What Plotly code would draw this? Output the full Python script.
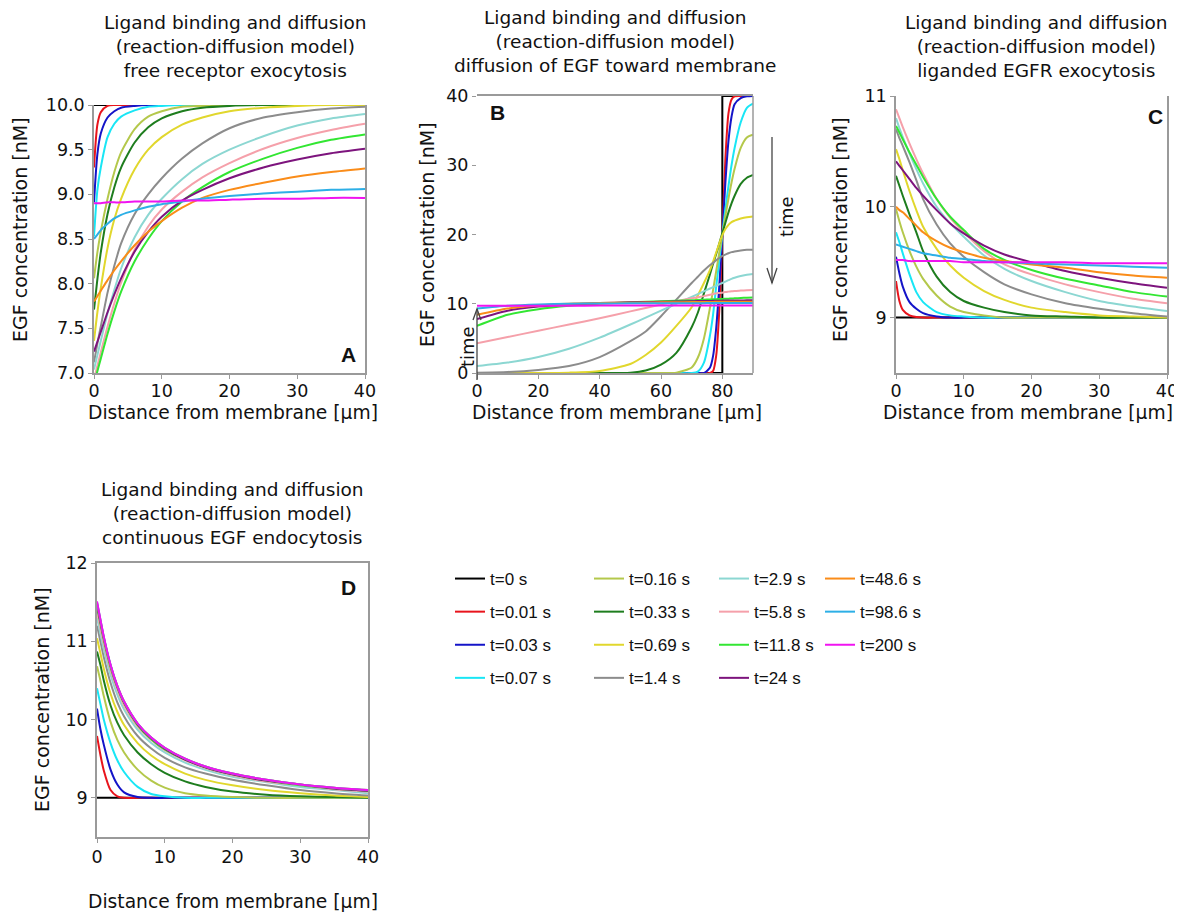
import plotly.graph_objects as go

W, H = 1182, 912
OFF = 8  # default page margin of the html body
FONT = "DejaVu Sans"
LEGFONT = "Liberation Sans Narrow, Arial Narrow, Liberation Sans, sans-serif"

LABELS = ["t=0 s", "t=0.01 s", "t=0.03 s", "t=0.07 s", "t=0.16 s", "t=0.33 s", "t=0.69 s",
          "t=1.4 s", "t=2.9 s", "t=5.8 s", "t=11.8 s", "t=24 s", "t=48.6 s", "t=98.6 s", "t=200 s"]
COLORS = ["#000000", "#E8141C", "#1414C8", "#19E6F5", "#B4C84B", "#1E7D1E", "#E1D72D",
          "#8C8C8C", "#8CD7D2", "#F5A0AA", "#32E632", "#7D147D", "#FA8C19", "#2DAFE6", "#F014F0"]

# ---------------- Panel A: free receptor exocytosis ----------------
XA = [0, 0.5, 1, 2, 3, 4, 6, 8, 10, 13, 16, 20, 25, 30, 35, 40]
A_t0 = [10.0, 10.0, 10.0, 10.0, 10.0, 10.0, 10.0, 10.0, 10.0, 10.0, 10.0, 10.0, 10.0, 10.0, 10.0, 10.0]
A_t0_01 = [9.30, 9.78, 9.92, 9.99, 10.0, 10.0, 10.0, 10.0, 10.0, 10.0, 10.0, 10.0, 10.0, 10.0, 10.0, 10.0]
A_t0_03 = [8.91, 9.45, 9.68, 9.86, 9.93, 9.97, 9.99, 10.0, 10.0, 10.0, 10.0, 10.0, 10.0, 10.0, 10.0, 10.0]
A_t0_07 = [8.53, 9.05, 9.30, 9.64, 9.79, 9.87, 9.94, 9.98, 9.99, 10.0, 10.0, 10.0, 10.0, 10.0, 10.0, 10.0]
A_t0_16 = [8.06, 8.35, 8.58, 8.95, 9.25, 9.47, 9.73, 9.87, 9.93, 9.98, 9.99, 10.0, 10.0, 10.0, 10.0, 10.0]
A_t0_33 = [7.71, 8.05, 8.35, 8.78, 9.08, 9.30, 9.58, 9.75, 9.85, 9.93, 9.97, 9.99, 10.0, 10.0, 10.0, 10.0]
A_t0_69 = [7.36, 7.68, 7.95, 8.40, 8.72, 8.95, 9.28, 9.50, 9.64, 9.78, 9.86, 9.93, 9.97, 9.99, 10.0, 10.0]
A_t1_4 = [7.12, 7.33, 7.52, 7.90, 8.20, 8.45, 8.78, 9.00, 9.18, 9.40, 9.57, 9.74, 9.86, 9.92, 9.96, 9.98]
A_t2_9 = [7.04, 7.20, 7.36, 7.67, 7.93, 8.17, 8.52, 8.77, 8.95, 9.17, 9.34, 9.50, 9.65, 9.77, 9.85, 9.90]
A_t5_8 = [6.93, 7.08, 7.23, 7.52, 7.78, 8.01, 8.38, 8.64, 8.83, 9.03, 9.19, 9.35, 9.51, 9.63, 9.72, 9.79]
A_t11_8 = [6.88, 7.02, 7.16, 7.44, 7.69, 7.91, 8.25, 8.50, 8.70, 8.92, 9.08, 9.25, 9.40, 9.52, 9.61, 9.67]
A_t24 = [7.24, 7.35, 7.46, 7.68, 7.88, 8.06, 8.36, 8.58, 8.75, 8.93, 9.05, 9.18, 9.30, 9.39, 9.46, 9.51]
A_t48_6 = [7.80, 7.86, 7.92, 8.04, 8.15, 8.25, 8.43, 8.58, 8.70, 8.85, 8.96, 9.05, 9.13, 9.20, 9.25, 9.29]
A_t98_6 = [8.50, 8.55, 8.60, 8.67, 8.73, 8.77, 8.82, 8.86, 8.89, 8.92, 8.95, 8.98, 9.01, 9.03, 9.05, 9.06]
A_t200 = [8.90, 8.90, 8.90, 8.91, 8.91, 8.91, 8.92, 8.92, 8.92, 8.93, 8.93, 8.94, 8.95, 8.95, 8.96, 8.96]

# ---------------- Panel B: diffusion of EGF toward membrane ----------------
XB0 = [0, 80, 80, 90]
XB = [0, 10, 20, 30, 40, 50, 55, 60, 65, 70, 72, 74, 76, 77, 78, 79, 80, 81, 82, 83, 84, 86, 88, 90]
B_t0 = [0, 0, 40, 40]
B_t0_01 = [0, 0, 0, 0, 0, 0, 0, 0, 0, 0, 0, 0, 0, 0.3, 2.5, 9.0, 20.0, 31.0, 37.5, 39.5, 39.95, 40, 40, 40]
B_t0_03 = [0, 0, 0, 0, 0, 0, 0, 0, 0, 0, 0, 0, 0.8, 2.5, 6.5, 12.5, 20.0, 27.5, 33.5, 37.0, 38.8, 39.7, 39.95, 40]
B_t0_07 = [0, 0, 0, 0, 0, 0, 0, 0, 0, 0, 0.2, 1.5, 5.5, 8.5, 12.5, 16.2, 20.0, 23.7, 27.0, 30.0, 32.5, 36.2, 38.3, 38.9]
B_t0_16 = [0, 0, 0, 0, 0, 0, 0, 0, 0.05, 0.8, 2.2, 5.0, 9.5, 12.0, 14.7, 17.4, 20.0, 22.7, 25.2, 27.5, 29.5, 32.5, 34.0, 34.4]
B_t0_33 = [0, 0, 0, 0, 0, 0.05, 0.35, 1.2, 2.9, 6.6, 8.7, 11.5, 14.3, 15.8, 17.2, 18.7, 20.2, 21.7, 23.2, 24.5, 25.6, 27.3, 28.2, 28.6]
B_t0_69 = [0, 0, 0, 0.05, 0.3, 1.3, 2.6, 4.4, 6.8, 9.5, 11.2, 13.0, 14.9, 16.1, 17.4, 18.7, 19.9, 20.8, 21.4, 21.8, 22.0, 22.3, 22.5, 22.6]
B_t1_4 = [0.05, 0.15, 0.45, 1.0, 2.3, 4.6, 6.0, 8.2, 10.6, 13.0, 13.9, 14.8, 15.6, 15.9, 16.3, 16.6, 16.9, 17.1, 17.3, 17.45, 17.55, 17.7, 17.8, 17.8]
B_t2_9 = [1.0, 1.5, 2.3, 3.5, 5.1, 7.0, 8.0, 9.0, 10.0, 11.0, 11.4, 11.8, 12.2, 12.4, 12.6, 12.8, 13.0, 13.2, 13.4, 13.6, 13.75, 14.0, 14.2, 14.3]
B_t5_8 = [4.3, 5.2, 6.1, 7.0, 7.9, 8.9, 9.4, 9.9, 10.35, 10.8, 10.95, 11.1, 11.3, 11.4, 11.5, 11.55, 11.6, 11.7, 11.75, 11.8, 11.85, 11.9, 11.95, 12.0]
B_t11_8 = [6.8, 8.4, 9.2, 9.7, 10.0, 10.2, 10.28, 10.35, 10.42, 10.5, 10.54, 10.58, 10.62, 10.64, 10.66, 10.68, 10.7, 10.72, 10.74, 10.76, 10.78, 10.83, 10.87, 10.9]
B_t24 = [7.8, 9.0, 9.6, 9.9, 10.1, 10.2, 10.24, 10.28, 10.32, 10.36, 10.38, 10.4, 10.41, 10.42, 10.43, 10.44, 10.45, 10.46, 10.46, 10.47, 10.47, 10.48, 10.49, 10.5]
B_t48_6 = [8.4, 9.3, 9.75, 10.0, 10.1, 10.15, 10.17, 10.2, 10.22, 10.24, 10.25, 10.26, 10.27, 10.27, 10.28, 10.28, 10.29, 10.29, 10.3, 10.3, 10.3, 10.3, 10.3, 10.3]
B_t98_6 = [9.3, 9.7, 9.9, 10.0, 10.04, 10.06, 10.07, 10.08, 10.08, 10.09, 10.09, 10.09, 10.1, 10.1, 10.1, 10.1, 10.1, 10.1, 10.1, 10.1, 10.1, 10.1, 10.1, 10.1]
B_t200 = [9.7, 9.71, 9.72, 9.72, 9.73, 9.73, 9.73, 9.74, 9.74, 9.74, 9.74, 9.74, 9.75, 9.75, 9.75, 9.75, 9.75, 9.75, 9.75, 9.75, 9.75, 9.75, 9.75, 9.75]

# ---------------- Panel C: liganded EGFR exocytosis ----------------
XC = [0, 0.5, 1, 2, 3, 4, 6, 8, 10, 13, 16, 20, 25, 30, 35, 40]
C_t0 = [9.0, 9.0, 9.0, 9.0, 9.0, 9.0, 9.0, 9.0, 9.0, 9.0, 9.0, 9.0, 9.0, 9.0, 9.0, 9.0]
C_t0_01 = [9.33, 9.15, 9.07, 9.02, 9.005, 9.0, 9.0, 9.0, 9.0, 9.0, 9.0, 9.0, 9.0, 9.0, 9.0, 9.0]
C_t0_03 = [9.55, 9.40, 9.28, 9.14, 9.08, 9.04, 9.01, 9.0, 9.0, 9.0, 9.0, 9.0, 9.0, 9.0, 9.0, 9.0]
C_t0_07 = [9.77, 9.68, 9.58, 9.39, 9.23, 9.14, 9.05, 9.02, 9.01, 9.0, 9.0, 9.0, 9.0, 9.0, 9.0, 9.0]
C_t0_16 = [9.98, 9.87, 9.77, 9.60, 9.46, 9.35, 9.20, 9.10, 9.05, 9.02, 9.0, 9.0, 9.0, 9.0, 9.0, 9.0]
C_t0_33 = [10.28, 10.19, 10.10, 9.93, 9.77, 9.60, 9.37, 9.23, 9.15, 9.09, 9.05, 9.02, 9.01, 9.0, 9.0, 9.0]
C_t0_69 = [10.52, 10.43, 10.33, 10.14, 9.97, 9.82, 9.62, 9.47, 9.36, 9.24, 9.16, 9.09, 9.05, 9.02, 9.01, 9.0]
C_t1_4 = [10.70, 10.62, 10.55, 10.40, 10.24, 10.07, 9.84, 9.67, 9.55, 9.41, 9.30, 9.21, 9.13, 9.08, 9.04, 9.01]
C_t2_9 = [10.80, 10.71, 10.63, 10.48, 10.34, 10.21, 10.00, 9.85, 9.73, 9.56, 9.44, 9.33, 9.23, 9.15, 9.10, 9.06]
C_t5_8 = [10.88, 10.80, 10.72, 10.57, 10.43, 10.30, 10.07, 9.90, 9.77, 9.60, 9.48, 9.39, 9.30, 9.23, 9.17, 9.13]
C_t11_8 = [10.73, 10.67, 10.61, 10.49, 10.38, 10.27, 10.07, 9.91, 9.79, 9.62, 9.52, 9.43, 9.35, 9.29, 9.23, 9.19]
C_t24 = [10.41, 10.37, 10.33, 10.25, 10.17, 10.10, 9.97, 9.85, 9.76, 9.65, 9.57, 9.50, 9.42, 9.36, 9.31, 9.27]
C_t48_6 = [10.0, 9.97, 9.95, 9.89, 9.83, 9.77, 9.69, 9.63, 9.59, 9.54, 9.51, 9.48, 9.45, 9.41, 9.38, 9.36]
C_t98_6 = [9.66, 9.65, 9.64, 9.62, 9.60, 9.58, 9.56, 9.54, 9.53, 9.51, 9.50, 9.49, 9.48, 9.47, 9.46, 9.45]
C_t200 = [9.52, 9.52, 9.52, 9.51, 9.51, 9.51, 9.51, 9.51, 9.50, 9.50, 9.50, 9.50, 9.50, 9.49, 9.49, 9.49]

# ---------------- Panel D: continuous EGF endocytosis ----------------
XD = [0, 0.5, 1, 2, 3, 4, 6, 8, 10, 13, 16, 20, 25, 30, 35, 40]
D_t0 = [9.0, 9.0, 9.0, 9.0, 9.0, 9.0, 9.0, 9.0, 9.0, 9.0, 9.0, 9.0, 9.0, 9.0, 9.0, 9.0]
D_t0_01 = [9.79, 9.55, 9.35, 9.10, 9.02, 9.0, 9.0, 9.0, 9.0, 9.0, 9.0, 9.0, 9.0, 9.0, 9.0, 9.0]
D_t0_03 = [10.14, 9.88, 9.68, 9.36, 9.17, 9.07, 9.01, 9.0, 9.0, 9.0, 9.0, 9.0, 9.0, 9.0, 9.0, 9.0]
D_t0_07 = [10.40, 10.20, 10.00, 9.70, 9.48, 9.33, 9.14, 9.05, 9.02, 9.0, 9.0, 9.0, 9.0, 9.0, 9.0, 9.0]
D_t0_16 = [10.68, 10.50, 10.30, 9.97, 9.74, 9.58, 9.36, 9.22, 9.13, 9.06, 9.03, 9.01, 9.0, 9.0, 9.0, 9.0]
D_t0_33 = [10.87, 10.70, 10.50, 10.18, 9.96, 9.80, 9.58, 9.43, 9.32, 9.21, 9.14, 9.08, 9.04, 9.02, 9.01, 9.0]
D_t0_69 = [11.04, 10.85, 10.65, 10.33, 10.10, 9.93, 9.70, 9.54, 9.43, 9.31, 9.23, 9.16, 9.10, 9.06, 9.03, 9.01]
D_t1_4 = [11.20, 11.00, 10.80, 10.47, 10.22, 10.04, 9.79, 9.63, 9.51, 9.39, 9.31, 9.23, 9.16, 9.10, 9.06, 9.03]
D_t2_9 = [11.30, 11.10, 10.90, 10.57, 10.32, 10.13, 9.87, 9.70, 9.58, 9.45, 9.36, 9.27, 9.20, 9.14, 9.10, 9.06]
D_t5_8 = [11.38, 11.17, 10.97, 10.63, 10.38, 10.18, 9.91, 9.74, 9.61, 9.48, 9.38, 9.29, 9.21, 9.16, 9.11, 9.08]
D_t11_8 = [11.44, 11.23, 11.02, 10.67, 10.41, 10.21, 9.93, 9.75, 9.62, 9.49, 9.39, 9.30, 9.22, 9.16, 9.12, 9.09]
D_t24 = [11.47, 11.25, 11.04, 10.69, 10.42, 10.22, 9.94, 9.76, 9.63, 9.49, 9.39, 9.30, 9.22, 9.17, 9.12, 9.09]
D_t48_6 = [11.49, 11.27, 11.05, 10.69, 10.43, 10.23, 9.95, 9.77, 9.64, 9.50, 9.40, 9.31, 9.23, 9.17, 9.13, 9.10]
D_t98_6 = [11.50, 11.28, 11.06, 10.70, 10.43, 10.23, 9.95, 9.77, 9.64, 9.50, 9.40, 9.31, 9.23, 9.17, 9.13, 9.10]
D_t200 = [11.51, 11.28, 11.06, 10.70, 10.43, 10.23, 9.95, 9.77, 9.64, 9.50, 9.40, 9.31, 9.23, 9.17, 9.13, 9.10]

A_SERIES = [A_t0, A_t0_01, A_t0_03, A_t0_07, A_t0_16, A_t0_33, A_t0_69, A_t1_4, A_t2_9, A_t5_8,
            A_t11_8, A_t24, A_t48_6, A_t98_6, A_t200]
B_SERIES = [B_t0, B_t0_01, B_t0_03, B_t0_07, B_t0_16, B_t0_33, B_t0_69, B_t1_4, B_t2_9, B_t5_8,
            B_t11_8, B_t24, B_t48_6, B_t98_6, B_t200]
C_SERIES = [C_t0, C_t0_01, C_t0_03, C_t0_07, C_t0_16, C_t0_33, C_t0_69, C_t1_4, C_t2_9, C_t5_8,
            C_t11_8, C_t24, C_t48_6, C_t98_6, C_t200]
D_SERIES = [D_t0, D_t0_01, D_t0_03, D_t0_07, D_t0_16, D_t0_33, D_t0_69, D_t1_4, D_t2_9, D_t5_8,
            D_t11_8, D_t24, D_t48_6, D_t98_6, D_t200]

LEGEND_NAMES = ["legend", "legend2", "legend3", "legend4"]


def fx(p):
    return (p - OFF) / W


def fy(p):
    return 1 - (p - OFF) / H


fig = go.Figure()

panels = [
    ("x", "y", XA, A_SERIES),
    ("x2", "y2", XB, B_SERIES),
    ("x3", "y3", XC, C_SERIES),
    ("x4", "y4", XD, D_SERIES),
]

for pi, (xa, ya, xs, series) in enumerate(panels):
    for i, ys in enumerate(series):
        is_step = (pi == 1 and i == 0)
        fig.add_trace(go.Scatter(
            x=XB0 if is_step else xs,
            y=ys,
            mode="lines",
            line=dict(color=COLORS[i], width=2,
                      shape="linear" if is_step else "spline", smoothing=0.7),
            name=LABELS[i],
            legendgroup=LABELS[i],
            showlegend=(pi == 0),
            legend=LEGEND_NAMES[i // 4],
            xaxis=xa, yaxis=ya,
        ))

AXC = "#9A9A9A"


def axis(domain, rng, tickvals, anchor, showline=True, mirror=False, tickformat=None,
         ticklen=4, standoff=0):
    d = dict(domain=domain, range=rng, tickvals=tickvals, anchor=anchor, automargin=False,
             showline=showline, linecolor=AXC, linewidth=1.5, mirror=mirror,
             ticks="outside", ticklen=ticklen, tickcolor=AXC, tickwidth=1.2,
             ticklabelstandoff=standoff,
             showgrid=False, zeroline=False, fixedrange=True,
             tickfont=dict(family=FONT, size=17.5, color="#111111"))
    if tickformat:
        d["tickformat"] = tickformat
    return d


layout = dict(
    width=W, height=H,
    margin=dict(l=0, r=0, t=0, b=0, pad=0, autoexpand=False),
    paper_bgcolor="white", plot_bgcolor="white",
    font=dict(family=FONT, size=18, color="#111111"),
    showlegend=True,
    xaxis=axis([fx(94), fx(365)], [0, 40], [0, 10, 20, 30, 40], "y", standoff=-3),
    yaxis=axis([fy(373), fy(105)], [7, 10], [7, 7.5, 8, 8.5, 9, 9.5, 10], "x",
               mirror=True, tickformat=".1f"),
    xaxis2=axis([fx(477), fx(753)], [0, 90], [0, 20, 40, 60, 80], "y2", mirror=True, standoff=-3),
    yaxis2=axis([fy(373), fy(96)], [0, 40], [0, 10, 20, 30, 40], "x2", showline=False),
    xaxis3=axis([fx(896), fx(1167)], [0, 40], [0, 10, 20, 30, 40], "y3", standoff=-3),
    yaxis3=axis([fy(373), fy(96)], [8.5, 11], [9, 10, 11], "x3", mirror=True),
    xaxis4=axis([fx(97), fx(368)], [0, 40], [0, 10, 20, 30, 40], "y4", mirror=True, standoff=-1),
    yaxis4=axis([fy(837), fy(563)], [8.5, 12], [9, 10, 11, 12], "x4", mirror=True),
)

leg_x = [450, 589, 714, 820]
for k, name in enumerate(LEGEND_NAMES):
    layout[name] = dict(x=fx(leg_x[k]), y=fy(561), xanchor="left", yanchor="top",
                        orientation="v", traceorder="grouped", tracegroupgap=8,
                        bgcolor="rgba(0,0,0,0)", borderwidth=0, itemwidth=30,
                        font=dict(family=LEGFONT, size=17, color="#111111"))

fig.update_layout(**layout)

# ---- text annotations ----
ann = []
titles = [
    ("Ligand binding and diffusion<br>(reaction-diffusion model)<br>free receptor exocytosis", 235, 47),
    ("Ligand binding and diffusion<br>(reaction-diffusion model)<br>diffusion of EGF toward membrane", 615, 42),
    ("Ligand binding and diffusion<br>(reaction-diffusion model)<br>liganded EGFR exocytosis", 1036, 47),
    ("Ligand binding and diffusion<br>(reaction-diffusion model)<br>continuous EGF endocytosis", 232, 513),
]
for txt, cx, cy in titles:
    ann.append(dict(text=txt, x=fx(cx), y=fy(cy), xref="paper", yref="paper",
                    xanchor="center", yanchor="middle", showarrow=False,
                    font=dict(family=FONT, size=18.5, color="#111111")))

xtitle = "Distance from membrane [μm]"
for cx, cy in [(233, 413), (617, 413), (1028, 413), (233, 901)]:
    ann.append(dict(text=xtitle, x=fx(cx), y=fy(cy), xref="paper", yref="paper",
                    xanchor="center", yanchor="middle", showarrow=False,
                    font=dict(family=FONT, size=18.7, color="#111111")))

ytitle = "EGF concentration [nM]"
for cx, cy in [(20, 230), (427, 235), (840, 230), (42, 700)]:
    ann.append(dict(text=ytitle, x=fx(cx), y=fy(cy), xref="paper", yref="paper",
                    xanchor="center", yanchor="middle", showarrow=False, textangle=-90,
                    font=dict(family=FONT, size=19, color="#111111")))

for letter, cx, cy in [("A", 348, 355), ("B", 497, 113), ("C", 1155, 117), ("D", 348, 587)]:
    ann.append(dict(text="<b>" + letter + "</b>", x=fx(cx), y=fy(cy), xref="paper", yref="paper",
                    xanchor="center", yanchor="middle", showarrow=False,
                    font=dict(family="Liberation Sans", size=21, color="#111111")))

for cx, cy in [(467, 347), (787, 217)]:
    ann.append(dict(text="time", x=fx(cx), y=fy(cy), xref="paper", yref="paper",
                    xanchor="center", yanchor="middle", showarrow=False, textangle=-90,
                    font=dict(family=FONT, size=18, color="#111111")))

fig.update_layout(annotations=ann)

# ---- frame line and time arrows in panel B ----
ARC = "#444444"
shapes = [
    dict(type="line", xref="x2 domain", yref="y2 domain", x0=1, x1=1, y0=0, y1=1,
         line=dict(color=AXC, width=1.5)),
    dict(type="line", xref="paper", yref="paper", x0=fx(477), x1=fx(477), y0=fy(380), y1=fy(309),
         line=dict(color=ARC, width=1.3)),
    dict(type="path", xref="paper", yref="paper",
         path=f"M {fx(473)} {fy(320)} L {fx(477)} {fy(309)} L {fx(481)} {fy(320)}",
         line=dict(color=ARC, width=1.3)),
    dict(type="line", xref="paper", yref="paper", x0=fx(772), x1=fx(772), y0=fy(137), y1=fy(283),
         line=dict(color=ARC, width=1.3)),
    dict(type="path", xref="paper", yref="paper",
         path=f"M {fx(767)} {fy(268)} L {fx(772)} {fy(283)} L {fx(777)} {fy(268)}",
         line=dict(color=ARC, width=1.3)),
]
fig.update_layout(shapes=shapes)

fig.write_html("out.html")
